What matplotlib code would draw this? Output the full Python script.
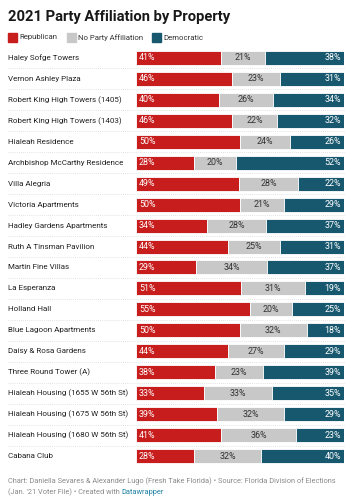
import matplotlib
matplotlib.use("Agg")
import matplotlib.pyplot as plt
from matplotlib.patches import Rectangle

properties = [
    "Haley Sofge Towers", "Vernon Ashley Plaza", "Robert King High Towers (1405)",
    "Robert King High Towers (1403)", "Hialeah Residence", "Archbishop McCarthy Residence",
    "Villa Alegria", "Victoria Apartments", "Hadley Gardens Apartments",
    "Ruth A Tinsman Pavilion", "Martin Fine Villas", "La Esperanza", "Holland Hall",
    "Blue Lagoon Apartments", "Daisy & Rosa Gardens", "Three Round Tower (A)",
    "Hialeah Housing (1655 W 56th St)", "Hialeah Housing (1675 W 56th St)",
    "Hialeah Housing (1680 W 56th St)", "Cabana Club",
]
republican = [41, 46, 40, 46, 50, 28, 49, 50, 34, 44, 29, 51, 55, 50, 44, 38, 33, 39, 41, 28]
no_party = [21, 23, 26, 22, 24, 20, 28, 21, 28, 25, 34, 31, 20, 32, 27, 23, 33, 32, 36, 32]
democratic = [38, 31, 34, 32, 26, 52, 22, 29, 37, 31, 37, 19, 25, 18, 29, 39, 35, 29, 23, 40]

series_names = ["Republican", "No Party Affiliation", "Democratic"]
colors = ["#c71e1d", "#c8c8c8", "#18586f"]
text_colors = ["white", "#333333", "white"]

plt.rcParams["font.family"] = ["Roboto", "DejaVu Sans"]

W, H = 352, 500
fig = plt.figure(figsize=(W / 100, H / 100), dpi=100)
fig.patch.set_facecolor("white")

ax_left, ax_right = 136 / W, 344 / W
row_top, row_bot = 47.5, 466.5
ax = fig.add_axes([ax_left, 1 - row_bot / H, ax_right - ax_left, (row_bot - row_top) / H])

n = len(properties)
px = 100.0 / 208  # one pixel in data units

for i in range(n):
    vals = [republican[i], no_party[i], democratic[i]]
    total = sum(vals)
    left = 0
    for k, v in enumerate(vals):
        w = v / total * 100
        ax.barh(i, w, left=left, height=0.67, color=colors[k],
                edgecolor="white", linewidth=0.6)
        if k == 0:
            ax.text(left + 3 * px, i, f"{v}%", ha="left", va="center",
                    color=text_colors[k], fontsize=6.4)
        elif k == 1:
            ax.text(left + w / 2, i, f"{v}%", ha="center", va="center",
                    color=text_colors[k], fontsize=6.4)
        else:
            ax.text(left + w - 3 * px, i, f"{v}%", ha="right", va="center",
                    color=text_colors[k], fontsize=6.4)
        left += w
    ax.text(-128 * px, i, properties[i], ha="left", va="center",
            fontsize=5.8, color="#222222")

for i in range(n - 1):
    ax.axhline(i + 0.5, xmin=-128 / 208, xmax=1, color="#d8d8d8",
               linestyle=(0, (1, 1.5)), linewidth=0.6, clip_on=False)

ax.set_xlim(0, 100)
ax.set_ylim(n - 0.5, -0.5)
ax.axis("off")

# title
fig.text(8 / W, 1 - 17 / H, "2021 Party Affiliation by Property", fontsize=10.6,
         fontweight="bold", color="#181818", va="center", ha="left")

# legend
leg_x = [8, 67, 152]
for k, name in enumerate(series_names):
    fig.patches.append(Rectangle((leg_x[k] / W, 1 - 42 / H), 9 / W, 9 / H,
                                 transform=fig.transFigure, color=colors[k]))
    fig.text((leg_x[k] + 11) / W, 1 - 37.5 / H, name, fontsize=5.6,
             color="#333333", va="center", ha="left")

# footer
fig.text(8 / W, 1 - 481 / H,
         "Chart: Daniella Sevares & Alexander Lugo (Fresh Take Florida) \u2022 Source: Florida Division of Elections",
         fontsize=5.3, color="#8a8a8a", va="center", ha="left")
t2 = fig.text(8 / W, 1 - 492 / H, "(Jan. '21 Voter File) \u2022 Created with ",
              fontsize=5.3, color="#8a8a8a", va="center", ha="left")
renderer = fig.canvas.get_renderer()
bb = t2.get_window_extent(renderer)
fig.text(bb.x1 / W, 1 - 492 / H, "Datawrapper", fontsize=5.3, color="#1d81a2",
         va="center", ha="left")

fig.savefig("out.png", dpi=100)
